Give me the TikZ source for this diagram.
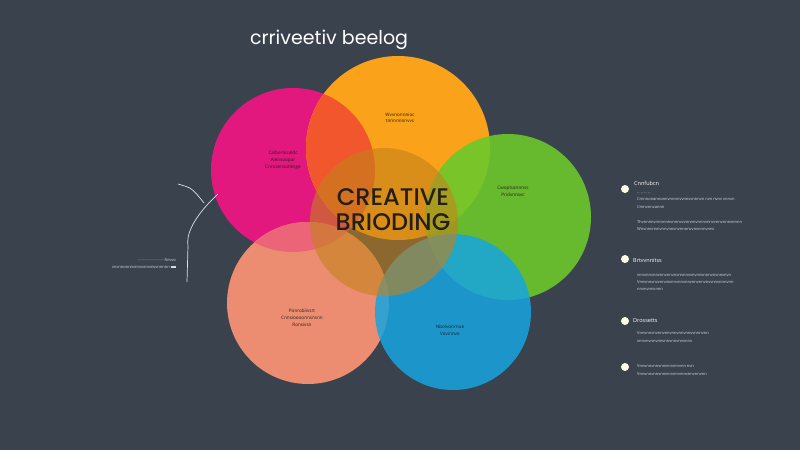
\documentclass[tikz,border=0pt]{standalone}
\usepackage{fontspec}
\setmainfont{Poppins}
\newfontfamily\smallfont{Open Sans}
\newfontfamily\corefont{Poppins Medium}
\definecolor{slate}{HTML}{3A424E}
\definecolor{magentac}{HTML}{E3187F}
\definecolor{orangec}{HTML}{F9A21A}
\definecolor{greenc}{HTML}{6CC82A}
\definecolor{salmonc}{HTML}{EC8C70}
\definecolor{bluec}{HTML}{17A4E0}
\definecolor{corec}{HTML}{C4821A}
\definecolor{redlens}{HTML}{F1562C}
\definecolor{pinklens}{HTML}{EC6478}
\definecolor{inktext}{HTML}{221E18}
\definecolor{listtext}{HTML}{D8DCE0}
\begin{document}
\begin{tikzpicture}[x=1pt,y=-1pt,
  blob/.style={circle,inner sep=0pt},
  tiny/.style={font=\smallfont\fontsize{4.6}{5}\selectfont,text=inktext,inner sep=0pt},
  listline/.style={font=\smallfont\fontsize{4}{4.6}\selectfont,text=listtext,inner sep=0pt,anchor=west},
  listhead/.style={font=\smallfont\fontsize{5.5}{6}\selectfont,text=white,inner sep=0pt,anchor=west},
  dot/.style={circle,fill=white!90!yellow,inner sep=0pt,minimum size=8pt}]
\useasboundingbox[fill=slate] (0,0) rectangle (800,450);

% circles
\node[blob,fill=magentac,minimum size=164pt] (c1) at (293,170) {};
\node[blob,fill=salmonc,minimum size=162pt] (c5) at (308,303) {};
\begin{scope}
  \clip (293,170) circle (82);
  \fill[pinklens] (308,303) circle (81);
\end{scope}
\node[blob,fill=orangec,minimum size=184pt] (c2) at (398,148) {};
\begin{scope}
  \clip (293,170) circle (82);
  \fill[redlens] (398,148) circle (92);
\end{scope}
\node[blob,fill=greenc,minimum size=166pt,fill opacity=0.9] (c3) at (508,217) {};
\node[blob,fill=bluec,minimum size=156pt,fill opacity=0.85] (c4) at (453,312) {};
\node[blob,fill=corec,minimum size=148pt,fill opacity=0.6] (c0) at (384,222) {};

% title and centre
\node[text=white,font=\fontsize{19}{22}\selectfont] (title) at (329,40) {crriveetiv beelog};
\node[text=inktext,font=\corefont\fontsize{24}{28}\selectfont,align=center] (core) at (393,210) {CREATIVE\\[-3pt]BRIODING};

% circle labels
\node[tiny,align=center] (t1) at (283,160) {Calbornicaldc\\[2pt]Aiensoopar\\[2pt]Cnrosensotiesge};
\node[tiny,align=center] (t2) at (400,118) {Wvvnonnnioc\\[1pt]tnnnnnnnvvs};
\node[tiny,align=center] (t3) at (513,191) {Cwoplsonnnss\\[2pt]Pridvnnsvc};
\node[tiny,align=center] (t4) at (302,318) {Ponrobiivsrt\\[2pt]Cnnsioooonnsnsnn\\[2pt]Ronsivsn};
\node[tiny,align=center] (t5) at (450,330) {Nbolvonrnoe\\[2pt]Vovinnvo};

% left pointer
\coordinate (p0) at (178,184);
\coordinate (p1) at (204,203);
\coordinate (p2) at (218,194);
\coordinate (p3) at (187,282);
\draw[white!85!slate,line width=0.7pt] (p0) .. controls (192,188) .. (p1);
\draw[white!85!slate,line width=0.7pt] (p2) .. controls (192,218) and (186,236) .. (188,246) -- (p3);
\node[listline,anchor=east] (l1) at (176,260) {\textcolor{white!60!slate}{--------------------} Nrvvo};
\node[listline,anchor=east] (l2) at (176,267) {vncnnonnnvnnvvnnvnvvnnnnn \rule{5pt}{2pt}};

% right list
\node[dot] (b1) at (625,189) {};
\node[listhead] (h1) at (634,183) {Cnnfubcn};
\node[listline] at (637,194) {-- -- -- --};
\node[listline] at (637,199) {Cmnnonannonnvnnnnvvnnvvnnnvn nvn nvnv vnnvn};
\node[listline] at (637,207) {Cmnvnnvannn};
\node[listline] at (637,222) {Thvnnnnvnnnnnnvnnnvvvnnnnvnnnvnnvvnnvnnnvnnnn};
\node[listline] at (637,229) {Wnvnnvnnnvnnvnnvnvnnnnvvnvnnnvnnv};

\node[dot] (b2) at (625,259) {};
\node[listhead] (h2) at (633,261) {Brtvvnnitss};
\node[listline] at (637,275) {vnnvnnvnnvnnvnnvnvnnnnvvnvnnvnnnvnvnnvnvn};
\node[listline] at (637,282) {Vnnvnnvnvvnnvnvnnvnnvnnvnnvnnvnvvnnvnnnvnn};
\node[listline] at (637,289) {nnvnvnnvnnn};

\node[dot] (b3) at (625,321) {};
\node[listhead] (h3) at (633,321) {Drossetts};
\node[listline] at (637,333) {Vnnvnnvnvnnvnnvnnvnnvnnvvnnnvnn};
\node[listline] at (637,341) {vnnvnvnnvnnvnnvnnvnnvnnv};

\node[dot] (b4) at (625,367) {};
\node[listline] at (637,366) {Vnnvnnvnnvnnvnnvnnvnn nvn};
\node[listline] at (637,374) {Vnnvnnvnnvnnvnnvnnvnnvnnvnnvnn};
\end{tikzpicture}
\end{document}
